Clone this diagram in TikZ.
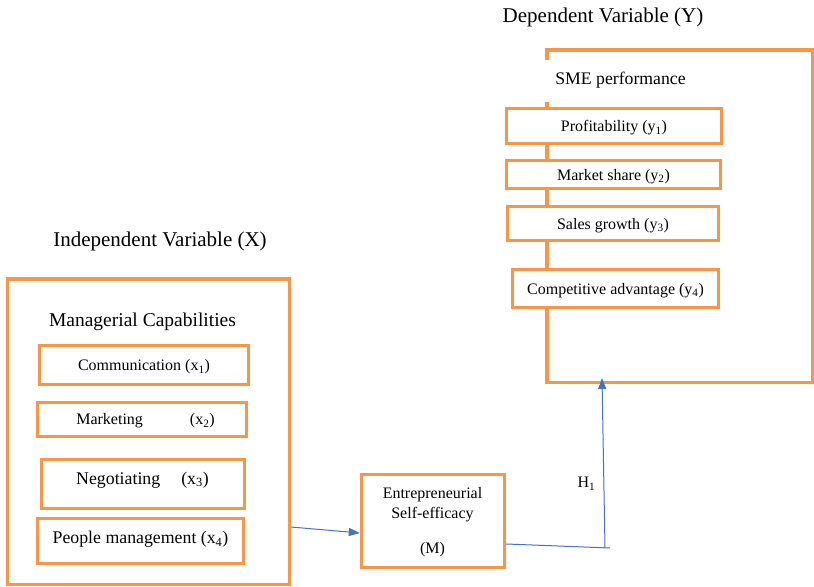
\documentclass[tikz,border=0pt]{standalone}
\usepackage{fontspec}
\setmainfont{Liberation Serif}
\usetikzlibrary{arrows.meta,calc}

\definecolor{frameorange}{RGB}{247,150,70}
\definecolor{linkblue}{RGB}{68,114,196}

\tikzset{
  box/.style={draw=frameorange, line width=3.3bp, fill=white, inner sep=0pt},
  frameline/.style={draw=frameorange, line width=3.3bp, line join=miter},
  txt/.style={inner sep=0pt, text height=15.2bp, text depth=3.7bp,
              font=\fontsize{16bp}{20bp}\selectfont},
  bigtxt/.style={inner sep=0pt, text height=16.5bp, text depth=4.1bp,
                 font=\fontsize{17.8bp}{21bp}\selectfont},
  heading/.style={inner sep=0pt, text height=18.7bp, text depth=4.8bp,
                  font=\fontsize{21bp}{25bp}\selectfont},
  link/.style={draw=linkblue, line width=1bp},
  tip/.style={-{Triangle[length=11bp,width=8bp]}}
}

\begin{document}
\begin{tikzpicture}[x=1bp,y=-1bp]
  \fill[white] (0,0) rectangle (814,587);
  \useasboundingbox (0,0) rectangle (814,587);

  % ---------- dependent variable block ----------
  \node[heading] (ttlY) at (603,16) {Dependent Variable (Y)};
  \node[inner sep=0pt, outer sep=0pt, minimum width=265.5bp, minimum height=332.3bp]
       (yframe) at (679.75,216.15) {};
  \draw[frameline] ($(yframe.north west)+(0,10)$) -- (yframe.north west)
        -- (yframe.north east) -- (yframe.south east) -- (yframe.south west)
        -- ($(yframe.north west)+(0,52)$);
  \node[inner sep=0pt, text height=16.4bp, text depth=4.1bp,
        font=\fontsize{17.7bp}{21bp}\selectfont] (sme) at (620.5,78) {SME performance};

  \node[box, txt, minimum width=215bp, minimum height=35bp] (y1) at (614,126)
       {Profitability (y\textsubscript{1})};
  \node[box, txt, minimum width=214bp, minimum height=28bp] (y2) at (613.5,174.5)
       {Market share (y\textsubscript{2})};
  \node[box, txt, minimum width=211bp, minimum height=34bp] (y3) at (613,223.5)
       {Sales growth (y\textsubscript{3})};
  \node[box, txt, minimum width=206bp, minimum height=38bp] (y4) at (615.5,288.5)
       {Competitive advantage (y\textsubscript{4})};

  % ---------- independent variable block ----------
  \node[heading] (ttlX) at (160,240) {Independent Variable (X)};
  \node[box, fill=none, minimum width=281.8bp, minimum height=305.7bp]
       (xframe) at (148.6,431.85) {};
  \node[inner sep=0pt, text height=17.7bp, text depth=4.5bp,
        font=\fontsize{19.5bp}{23bp}\selectfont] (mgr) at (142.5,320)
       {Managerial Capabilities};

  \node[box, txt, minimum width=209bp, minimum height=39bp] (x1) at (144,365)
       {Communication (x\textsubscript{1})};
  \node[box, minimum width=209bp, minimum height=34bp] (x2) at (142,419.5) {};
  \node[txt] (x2t) at (145.5,419) {Marketing\hspace{47bp}(x\textsubscript{2})};
  \node[box, minimum width=203bp, minimum height=49bp] (x3) at (143,484) {};
  \node[bigtxt] (x3t) at (142.5,478) {Negotiating\hspace{21bp}(x\textsubscript{3})};
  \node[box, minimum width=206bp, minimum height=45bp] (x4) at (140.5,541) {};
  \node[bigtxt] (x4t) at (140.5,537.5) {People management (x\textsubscript{4})};

  % ---------- mediator ----------
  \node[box, minimum width=143bp, minimum height=93bp] (mbox) at (433,521) {};
  \node[inner sep=0pt, font=\fontsize{16bp}{20bp}\selectfont, align=center]
       (mt) at (432.5,522)
       {Entrepreneurial\\Self-efficacy\\[15bp](M)};

  % ---------- paths ----------
  \coordinate (xm) at (0,527);
  \coordinate (mx) at (0,533);
  \coordinate (my) at (0,544);
  \coordinate (corner) at (610,548);
  \coordinate (h1base) at (605,548);
  \coordinate (h1top) at (602,378);
  \draw[link, tip] (xframe.east |- xm) -- (mbox.west |- mx);
  \draw[link] (mbox.east |- my) -- (corner);
  \draw[link, tip] (h1base) -- (h1top);
  \node[inner sep=0pt, font=\fontsize{16bp}{20bp}\selectfont] (h1) at (586.5,484)
       {H\textsubscript{1}};
\end{tikzpicture}
\end{document}
